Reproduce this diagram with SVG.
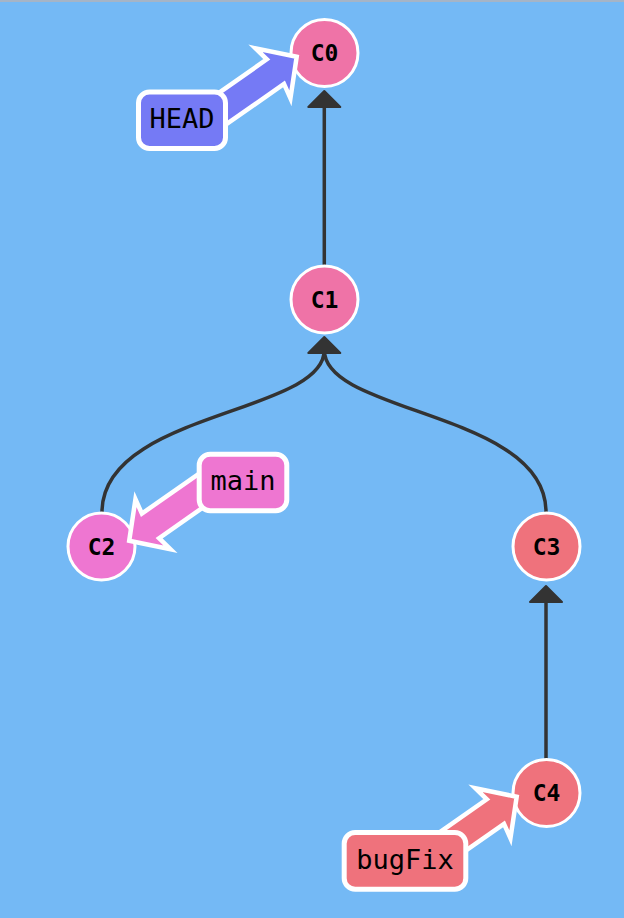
<svg xmlns="http://www.w3.org/2000/svg" width="624" height="918" viewBox="0 0 624 918">
  <style>
    .edge { fill: none; stroke: #333333; stroke-width: 3.5; }
    .ah { fill: #333333; stroke: #333333; stroke-width: 2; stroke-linejoin: round; }
    .commit { stroke: #ffffff; stroke-width: 3; }
    .ctext { font-family: "DejaVu Sans Mono", "Liberation Mono", monospace; font-weight: bold; font-size: 23px; fill: #000000; text-anchor: middle; }
    .blabel { stroke: #ffffff; stroke-width: 5; }
    .barrow { stroke: #ffffff; stroke-width: 4.5; stroke-linejoin: miter; }
    .btext { font-family: "DejaVu Sans Mono", "Liberation Mono", monospace; font-size: 27px; fill: #000000; text-anchor: middle; }
    .pink { fill: #EF73A7; }
    .orchid { fill: #EE76D1; }
    .red { fill: #EF727C; }
    .violet { fill: #757AF5; }
  </style>
  <defs>
    <path id="ah" d="M0,1.5 L16,17.5 L-16,17.5 Z"/>
    <path id="ptr" d="M0,0 L-29,-30.5 L-26,-15 L-105,-15 L-105,15 L-26,15 L-29,30.5 Z"/>
  </defs>

  <rect x="0" y="0" width="624" height="918" fill="#74B9F5"/>
  <rect x="0" y="0" width="624" height="2" fill="#A5B4C6"/>

  <g id="connectors">
    <path class="edge" d="M324.3,265 V105"/>
    <use href="#ah" class="ah" transform="translate(324.3,89.5)"/>
    <path class="edge" d="M102,512 C102,412 324.3,414 324.3,350"/>
    <path class="edge" d="M546,512 C546,412 324.3,414 324.3,350"/>
    <use href="#ah" class="ah" transform="translate(324.3,335.5)"/>
    <path class="edge" d="M546,759 V600"/>
    <use href="#ah" class="ah" transform="translate(546,584.5)"/>
  </g>

  <g id="C0">
    <circle class="commit pink" cx="324.5" cy="53" r="33.5"/>
    <text class="ctext" x="324.5" y="61">C0</text>
  </g>
  <g id="C1">
    <circle class="commit pink" cx="324.5" cy="299.5" r="33.5"/>
    <text class="ctext" x="324.5" y="307.5">C1</text>
  </g>
  <g id="C2">
    <circle class="commit orchid" cx="101.5" cy="546.5" r="33.5"/>
    <text class="ctext" x="101.5" y="554.5">C2</text>
  </g>
  <g id="C3">
    <circle class="commit red" cx="546.5" cy="546.5" r="33.5"/>
    <text class="ctext" x="546.5" y="554.5">C3</text>
  </g>
  <g id="C4">
    <circle class="commit red" cx="546.5" cy="793" r="33.5"/>
    <text class="ctext" x="546.5" y="801">C4</text>
  </g>

  <g id="HEAD">
    <use href="#ptr" class="barrow violet" transform="translate(296.7,56.7) rotate(-35)"/>
    <rect class="blabel violet" x="138.5" y="92" width="87" height="56.5" rx="11"/>
    <text class="btext" x="182" y="128">HEAD</text>
  </g>
  <g id="main">
    <use href="#ptr" class="barrow orchid" transform="translate(129.2,540.8) rotate(145)"/>
    <rect class="blabel orchid" x="199.2" y="454.2" width="87.6" height="56.6" rx="11"/>
    <text class="btext" x="243" y="490">main</text>
  </g>
  <g id="bugFix">
    <use href="#ptr" class="barrow red" transform="translate(516.7,796.7) rotate(-35)"/>
    <rect class="blabel red" x="344.2" y="832.5" width="121.6" height="56.7" rx="11"/>
    <text class="btext" x="405" y="868.6">bugFix</text>
  </g>
</svg>
